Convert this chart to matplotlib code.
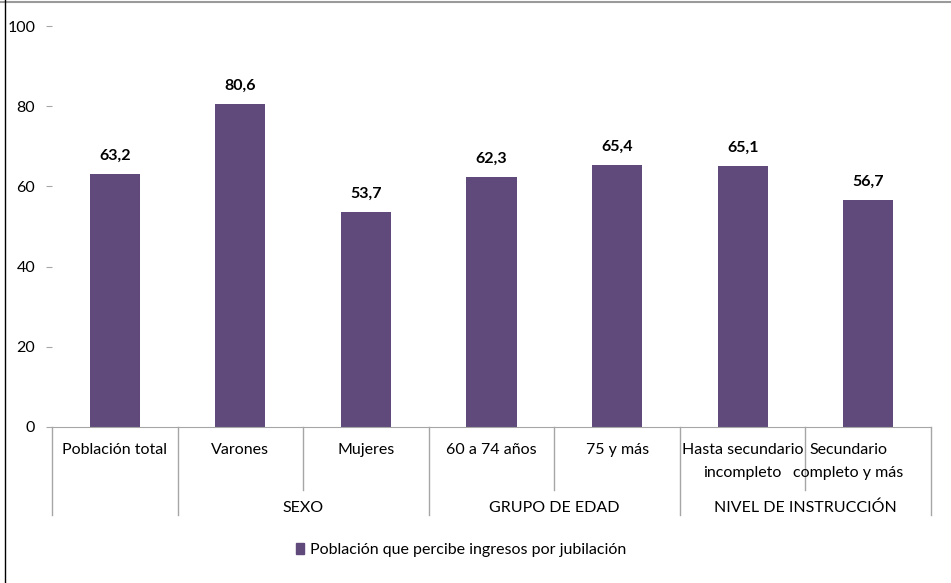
import matplotlib.pyplot as plt
from matplotlib.lines import Line2D
from matplotlib.patches import Patch
import matplotlib.transforms as mtransforms

plt.rcParams['font.family'] = ['Lato', 'DejaVu Sans']

categorias = ['Población total', 'Varones', 'Mujeres', '60 a 74 años', '75 y más',
              'Hasta secundario\nincompleto', 'Secundario\ncompleto y más']
valores = [63.2, 80.6, 53.7, 62.3, 65.4, 65.1, 56.7]
grupos = ['', 'SEXO', 'GRUPO DE EDAD', 'NIVEL DE INSTRUCCIÓN']
grupo_tam = [1, 2, 2, 2]
serie = 'Población que percibe ingresos por jubilación'
color = '#604A7B'
gris = '#A6A6A6'
fs = 11.5

W, H = 951, 583
fig = plt.figure(figsize=(W / 100, H / 100), dpi=100)
ax = fig.add_axes([52 / W, (H - 427) / H, (931 - 52) / W, (427 - 26) / H])

x = list(range(len(categorias)))
bars = ax.bar(x, valores, width=0.4, color=color)
for b, v in zip(bars, valores):
    ax.annotate(f'{v:.1f}'.replace('.', ','), (b.get_x() + b.get_width() / 2, v),
                xytext=(0, 8), textcoords='offset points', ha='center', va='bottom',
                fontsize=fs, fontweight='bold')

ax.set_xlim(-0.5, len(categorias) - 0.5)
ax.set_ylim(0, 100)
ax.set_yticks(range(0, 101, 20))
ax.tick_params(axis='y', length=4, color=gris, labelsize=fs, pad=8)
ax.set_xticks([])
for s in ['top', 'right', 'left']:
    ax.spines[s].set_visible(False)
ax.spines['bottom'].set_color(gris)

# ejes de categorías en dos niveles
tr = mtransforms.blended_transform_factory(ax.transData, ax.transAxes)
px = 1 / (427 - 26)
bordes = [0]
for n in grupo_tam:
    bordes.append(bordes[-1] + n)
for i in range(len(categorias) + 1):
    fondo = -(515 - 427) * px if i in bordes else -(490 - 427) * px
    ax.add_line(Line2D([i - 0.5, i - 0.5], [0, fondo], transform=tr,
                       color=gris, lw=1, clip_on=False))
desp = [0, 0, 0, 0, 0, 0, -0.16]
for i, c in enumerate(categorias):
    ax.text(i + desp[i], -(443 - 427) * px, c, transform=tr, ha='center', va='top',
            fontsize=fs, linespacing=1.8)
for g, a, b in zip(grupos, bordes[:-1], bordes[1:]):
    ax.text((a + b - 1) / 2, -(508 - 427) * px, g, transform=tr, ha='center',
            va='center', fontsize=fs)

fig.legend(handles=[Patch(color=color, label=serie)], loc='center',
           bbox_to_anchor=(461 / W, (H - 550) / H), frameon=False, fontsize=fs,
           handlelength=0.55, handleheight=0.65, handletextpad=0.35)

# marco
fig.add_artist(Line2D([0, 1], [1 - 1.5 / H, 1 - 1.5 / H], color='#9A9A9A', lw=1.5))
fig.add_artist(Line2D([4.5 / W, 4.5 / W], [0, 1], color='black', lw=1))

fig.savefig('out.png', dpi=100)
